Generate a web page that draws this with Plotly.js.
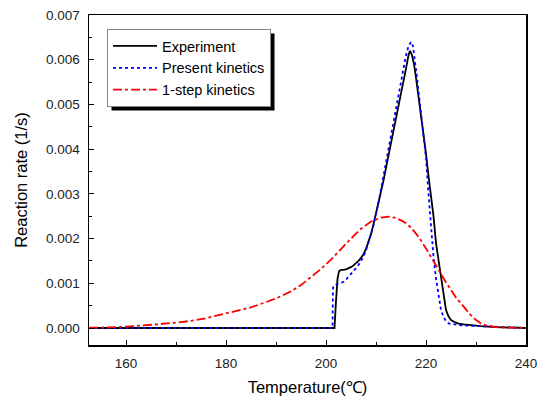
<!DOCTYPE html>
<html>
<head>
<meta charset="utf-8">
<script src="https://cdn.plot.ly/plotly-3.0.1.min.js"></script>
<style>html,body{margin:0;padding:0;background:#fff;}#chart{width:544px;height:396px;}</style>
</head>
<body>
<div id="chart"></div>
<script>
// Experiment
const expT = [152.6,160,170,180,190,200,201.7,202.0,202.3,202.6,203.0,203.5,204.0,204.5,205.0,205.5,206.0,206.5,207.0,207.5,208.0,208.5,209.0,209.5,210.0,210.5,211.0,211.5,212.0,212.5,213.0,213.5,214.0,214.5,215.0,215.5,216.0,216.5,216.8,217.2,217.6,218.0,218.5,219.0,219.5,220.0,220.5,221.0,221.5,222.0,222.5,223.0,223.5,224.0,224.5,225.0,225.6,226.5,227.5,229,231,234,237,240];
const expR = [0,0,0,0,0,0,0,0.0006,0.0011,0.00127,0.0013,0.0013,0.00131,0.00134,0.00136,0.0014,0.00144,0.0015,0.00157,0.00165,0.00177,0.00192,0.0021,0.00232,0.00255,0.0028,0.0030,0.0033,0.00358,0.00385,0.00412,0.0044,0.00468,0.00495,0.0052,0.0055,0.0058,0.0061,0.0062,0.0061,0.0059,0.0056,0.0052,0.0047,0.0043,0.0039,0.0034,0.0030,0.0025,0.0019,0.0015,0.0011,0.0007,0.0004,0.00026,0.00018,0.00014,0.0001,0.00008,0.00006,0.00004,0.00002,0.00001,0];
// Present kinetics
const preT = [152.6,160,170,180,190,200,201.3,201.4,201.6,202.0,202.5,203.0,203.5,204.0,204.5,205.0,205.5,206.0,206.5,207.0,207.5,208.0,208.5,209.0,209.5,210.0,210.5,211.0,211.5,212.0,212.5,213.0,213.5,214.0,214.5,215.0,215.5,216.0,216.5,217.0,217.4,217.8,218.2,218.6,219.0,219.5,220.0,220.5,221.0,221.5,222.0,222.5,223.0,223.5,224.0,224.6,225.5,227,229,231,234,237,240];
const preR = [0,0,0,0,0,0,0,0.0009,0.00095,0.00097,0.00099,0.001,0.00103,0.00108,0.00114,0.0012,0.00127,0.00134,0.00141,0.0015,0.0016,0.00174,0.0019,0.0021,0.0023,0.00252,0.0028,0.0031,0.0034,0.0037,0.004,0.0043,0.0046,0.0049,0.0052,0.0055,0.0058,0.0061,0.0063,0.0064,0.0063,0.006,0.0056,0.0052,0.0048,0.0044,0.0038,0.003,0.0022,0.0016,0.0011,0.0007,0.0004,0.00025,0.00015,0.0001,0.00008,0.00006,0.00005,0.00004,0.00002,0.00001,0];
// 1-step kinetics
const oneT = [152.6,155,160,163,166,170,173,176,180,185,190,193,195,197,199,201,203,205,207,209,211,212.5,214,215.5,217,218.5,220,221,222,223,224,225,226,227,228,229,230,231,232,233,234,236,240];
const oneR = [0.00001,0.00001,0.00003,0.00005,0.00008,0.00012,0.00016,0.00022,0.00032,0.00046,0.00066,0.00082,0.00096,0.00113,0.00132,0.00153,0.00177,0.002,0.00222,0.00238,0.00247,0.00249,0.00246,0.00238,0.00225,0.00204,0.00178,0.00158,0.00141,0.00121,0.00102,0.00084,0.00068,0.00055,0.00041,0.00028,0.00018,0.0001,0.00006,0.00004,0.00002,0.00001,0];

const seriesNames = ['Experiment','Present kinetics','1-step kinetics'];
const xTitle = 'Temperature(℃)';
const yTitle = 'Reaction rate (1/s)';

const font = 'Arial, "Liberation Sans", sans-serif';
const traces = [
  {x: expT, y: expR, name: seriesNames[0], mode: 'lines', line: {color: '#000000', width: 1.8}},
  {x: preT, y: preR, name: seriesNames[1], mode: 'lines', line: {color: '#0000ff', width: 1.8, dash: 'dot'}},
  {x: oneT, y: oneR, name: seriesNames[2], mode: 'lines', line: {color: '#ff0000', width: 1.8, dash: 'dashdot'}}
];

const W = 544, H = 396, mL = 89, mR = 18, mT = 15, mB = 51;
const pw = W - mL - mR, ph = H - mT - mB;
function px2x(p){ return (p - mL) / pw; }
function py2y(p){ return 1 - (p - mT) / ph; }

const layout = {
  width: W, height: H,
  margin: {l: mL, r: mR, t: mT, b: mB, pad: 0},
  paper_bgcolor: '#fff', plot_bgcolor: '#fff',
  font: {family: font, size: 13, color: '#222'},
  showlegend: true,
  legend: {
    x: px2x(107), y: py2y(29), xanchor: 'left', yanchor: 'top',
    bgcolor: '#ffffff', bordercolor: '#888', borderwidth: 1,
    font: {family: font, size: 14.5, color: '#000'},
    tracegroupgap: 0, itemwidth: 44
  },
  shapes: [],
  xaxis: {
    range: [152.6, 240], dtick: 20, tick0: 0,
    ticks: 'inside', ticklen: 5, tickwidth: 1, tickcolor: '#000',
    minor: {dtick: 10, tick0: 0, ticks: 'inside', ticklen: 3, tickcolor: '#000'},
    showgrid: false, zeroline: false,
    showline: true, linecolor: '#000', linewidth: 1.5, mirror: true,
    tickfont: {family: font, size: 13.5, color: '#222'},
    ticklabelstandoff: 5,
    title: {text: xTitle, font: {family: font, size: 16.5, color: '#000'}, standoff: 12}
  },
  yaxis: {
    range: [-0.00038, 0.007], dtick: 0.001, tick0: 0, tickformat: '.3f',
    ticks: 'inside', ticklen: 5, tickwidth: 1, tickcolor: '#000',
    minor: {dtick: 0.0005, tick0: 0, ticks: 'inside', ticklen: 3, tickcolor: '#000'},
    showgrid: false, zeroline: false,
    showline: true, linecolor: '#000', linewidth: 1.5, mirror: true,
    tickfont: {family: font, size: 13.5, color: '#222'},
    ticklabelstandoff: 5,
    title: {text: yTitle, font: {family: font, size: 16.5, color: '#000'}, standoff: 14}
  }
};

Plotly.newPlot('chart', traces, layout, {displayModeBar: false, staticPlot: true}).then(function(gd){
  const bg = gd.querySelector('.legend .bg');
  if (!bg) return;
  const r = bg.getBoundingClientRect();
  const c = gd.getBoundingClientRect();
  const l = r.left - c.left, t = r.top - c.top;
  const off = 4;
  return Plotly.relayout(gd, {shapes: [{
    type: 'rect', xref: 'paper', yref: 'paper',
    x0: px2x(l + off), x1: px2x(l + r.width + off),
    y0: py2y(t + r.height + off), y1: py2y(t + off),
    fillcolor: '#000', line: {width: 0}, layer: 'above'
  }]});
});
</script>
</body>
</html>
